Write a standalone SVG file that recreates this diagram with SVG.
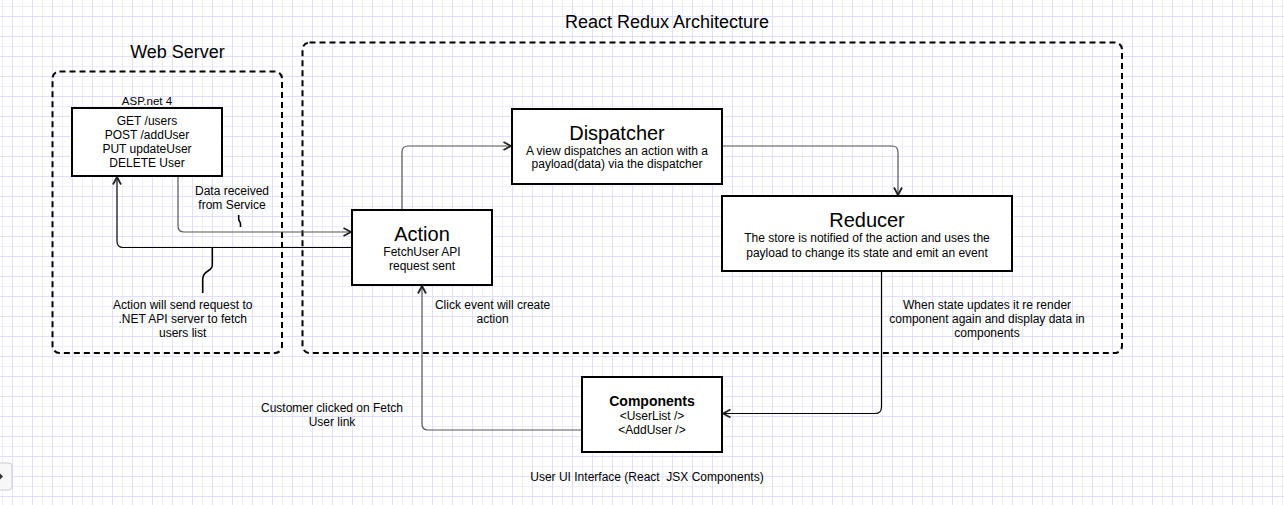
<svg xmlns="http://www.w3.org/2000/svg" width="1284" height="505" viewBox="0 0 1284 505">
  <defs>
    <pattern id="grid" patternUnits="userSpaceOnUse" x="2" y="6" width="20" height="20">
      <rect width="20" height="20" fill="#ffffff"/>
      <path d="M0.5,0 V20 M0,0.5 H20" stroke="#efeffb" stroke-width="1" fill="none"/>
      <path d="M10.5,0 V20 M0,10.5 H20" stroke="#e0e0f8" stroke-width="1" fill="none"/>
    </pattern>
    <marker id="arr" markerUnits="userSpaceOnUse" markerWidth="12" markerHeight="12" refX="9" refY="5" orient="auto">
      <path d="M1.5,1 L9,5 L1.5,9" fill="none" stroke="#222" stroke-width="1.8" stroke-linejoin="miter"/>
    </marker>
  </defs>
  <style>
    text { font-family: "Liberation Sans", Arial, sans-serif; fill: #000; text-anchor: middle; }
    .t18 { font-size: 18px; }
    .t20 { font-size: 20px; }
    .t12 { font-size: 12px; }
    .t11 { font-size: 11.5px; }
    .b14 { font-size: 14px; font-weight: bold; }
    .box { fill: #ffffff; stroke: #000; stroke-width: 2; }
    .cont { fill: none; stroke: #000; stroke-width: 2; stroke-dasharray: 6 4; }
    .edge { fill: none; stroke-width: 1.2; }
    .gray { stroke: #555; }
    .blk { stroke: #000; }
    .curl { fill: none; stroke: #000; stroke-width: 1.6; }
  </style>

  <rect x="0" y="0" width="1284" height="505" fill="url(#grid)"/>

  <g id="side-button">
    <rect x="-10" y="463" width="22" height="27" rx="3" fill="#f7f7f7" stroke="#cccccc" stroke-width="1"/>
    <path d="M0,473.5 L3,476.5 L0,479.5 Z" fill="#333"/>
  </g>

  <g id="web-server-container">
    <rect class="cont" x="52.5" y="71.5" width="229.5" height="281.5" rx="7"/>
    <text class="t18" x="177.5" y="58">Web Server</text>
  </g>

  <g id="react-redux-container">
    <rect class="cont" x="302.5" y="42.5" width="819.5" height="310.5" rx="7"/>
    <text class="t18" x="667" y="27.5">React Redux Architecture</text>
  </g>

  <g id="connectors">
    <path class="edge gray" d="M402,210 V152 Q402,146 408,146 H511" marker-end="url(#arr)"/>
    <path class="edge gray" d="M722,146 H892 Q898,146 898,152 V195" marker-end="url(#arr)"/>
    <path class="edge gray" d="M178,176 V226 Q178,232 184,232 H351" marker-end="url(#arr)"/>
    <path class="edge blk" d="M352,247.5 H123 Q117,247.5 117,241 V177" marker-end="url(#arr)"/>
    <path class="edge blk" d="M881.5,271 V407 Q881.5,413.5 875,413.5 H723" marker-end="url(#arr)"/>
    <path class="edge gray" d="M582,430 H428 Q422,430 422,424 V286" marker-end="url(#arr)"/>
    <path class="curl" d="M238.7,215 V219 C238.7,222 240.5,221 240.5,224 V227"/>
    <path class="curl" d="M212.3,248 V265 C212.3,272 202.7,270 202.7,279 V293"/>
  </g>

  <g id="asp-net">
    <text class="t11" x="147" y="105">ASP.net 4</text>
    <rect class="box" x="72" y="108" width="150" height="68"/>
    <text class="t12" x="147" y="125">GET /users</text>
    <text class="t12" x="147" y="139">POST /addUser</text>
    <text class="t12" x="147" y="153">PUT updateUser</text>
    <text class="t12" x="147" y="167">DELETE User</text>
  </g>

  <g id="action">
    <rect class="box" x="352" y="210" width="140" height="75"/>
    <text class="t20" x="422" y="241">Action</text>
    <text class="t12" x="422" y="256">FetchUser API</text>
    <text class="t12" x="422" y="270">request sent</text>
  </g>

  <g id="dispatcher">
    <rect class="box" x="512" y="109" width="210" height="75"/>
    <text class="t20" x="617" y="140">Dispatcher</text>
    <text class="t12" x="617" y="154.6">A view dispatches an action with a</text>
    <text class="t12" x="617" y="168">payload(data) via the dispatcher</text>
  </g>

  <g id="reducer">
    <rect class="box" x="722" y="196" width="290" height="75"/>
    <text class="t20" x="867" y="227">Reducer</text>
    <text class="t12" x="867" y="241.6">The store is notified of the action and uses the</text>
    <text class="t12" x="867" y="256.6">payload to change its state and emit an event</text>
  </g>

  <g id="components">
    <rect class="box" x="582" y="377" width="140" height="75"/>
    <text class="b14" x="652" y="406">Components</text>
    <text class="t12" x="652" y="420.3">&lt;UserList /&gt;</text>
    <text class="t12" x="652" y="434.3">&lt;AddUser /&gt;</text>
  </g>

  <g id="labels">
    <text class="t12" x="232" y="195.3">Data received</text>
    <text class="t12" x="232" y="208.6">from Service</text>
    <text class="t12" x="182.7" y="309.3">Action will send request to</text>
    <text class="t12" x="182.7" y="323">.NET API server to fetch</text>
    <text class="t12" x="182.7" y="337">users list</text>
    <text class="t12" x="492.6" y="309">Click event will create</text>
    <text class="t12" x="492.6" y="323.3">action</text>
    <text class="t12" x="987" y="308.6">When state updates it re render</text>
    <text class="t12" x="987" y="323.3">component again and display data in</text>
    <text class="t12" x="987" y="337">components</text>
    <text class="t12" x="332" y="412">Customer clicked on Fetch</text>
    <text class="t12" x="332" y="426">User link</text>
    <text class="t12" x="647" y="481" xml:space="preserve">User UI Interface (React  JSX Components)</text>
  </g>
</svg>
